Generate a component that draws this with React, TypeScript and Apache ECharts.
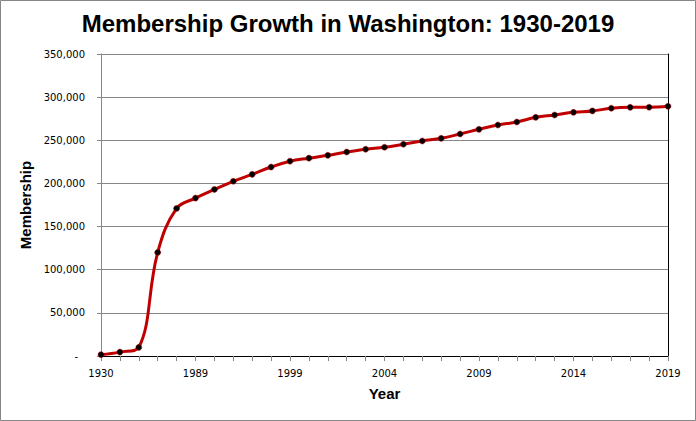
import React, { useEffect, useRef } from "react";
import * as echarts from "echarts";

const years = [
  "1930", "1940", "1950", "1960", "1970", "1989", "1991", "1993", "1995", "1997",
  "1999", "2000", "2001", "2002", "2003", "2004", "2005", "2006", "2007", "2008",
  "2009", "2010", "2011", "2012", "2013", "2014", "2015", "2016", "2017", "2018", "2019",
];

const membership = [
  1500, 4500, 10000, 120000, 171000, 183000, 193000, 202500, 210500, 219000,
  225800, 229300, 232600, 236400, 239600, 241900, 245400, 249200, 252300, 257300,
  262700, 267700, 271200, 276600, 279300, 282400, 284000, 287100, 288200, 288300, 289400,
];

const titleText = "Membership Growth in Washington: 1930-2019";
const xName = "Year";
const yName = "Membership";

export default function App() {
  const ref = useRef<HTMLDivElement>(null);
  useEffect(() => {
    if (!ref.current) return;
    const chart = echarts.init(ref.current, null, { renderer: "svg" });
    const labelFont = "DejaVu Sans";
    const boldFont = "Liberation Sans";
    chart.setOption({
      animation: false,
      backgroundColor: "#fff",
      title: {
        text: titleText,
        left: "center",
        top: 11,
        padding: 0,
        textStyle: { fontFamily: boldFont, fontWeight: "bold", fontSize: 24, color: "#000" },
      },
      graphic: [
        {
          type: "rect",
          shape: { x: 0.5, y: 0.5, width: 695, height: 420 },
          style: { fill: "none", stroke: "#868686", lineWidth: 1 },
          silent: true,
        },
      ],
      grid: { left: 101, right: 28, top: 54, bottom: 65, containLabel: false },
      xAxis: [
        {
          type: "category",
          data: years,
          boundaryGap: false,
          name: xName,
          nameLocation: "middle",
          nameGap: 30,
          nameTextStyle: { fontFamily: boldFont, fontWeight: "bold", fontSize: 15, color: "#000" },
          axisLine: { lineStyle: { color: "#868686", width: 1 } },
          axisTick: { show: true, interval: 0, length: 5, lineStyle: { color: "#868686" } },
          axisLabel: { interval: 4, margin: 12, fontFamily: labelFont, fontSize: 10, color: "#000" },
          splitLine: { show: false },
        },
        {
          type: "category",
          data: years,
          boundaryGap: false,
          position: "top",
          axisLine: { show: true, lineStyle: { color: "#000", width: 1 } },
          axisTick: { show: false },
          axisLabel: { show: false },
          splitLine: { show: false },
        },
      ],
      yAxis: [
        {
          type: "value",
          min: 0,
          max: 350000,
          interval: 50000,
          name: yName,
          nameLocation: "middle",
          nameGap: 64,
          nameTextStyle: { fontFamily: boldFont, fontWeight: "bold", fontSize: 15, color: "#000" },
          axisLine: { show: true, lineStyle: { color: "#868686", width: 1 } },
          axisTick: { show: true, length: 4, lineStyle: { color: "#868686" } },
          axisLabel: {
            margin: 16,
            fontFamily: labelFont,
            fontSize: 10,
            color: "#000",
            formatter: (v: number) =>
              v === 0 ? "{z|-}" : v.toLocaleString("en-US"),
            rich: { z: { fontFamily: labelFont, fontSize: 10, color: "#000", padding: [0, 7, 0, 0] } },
          },
          splitLine: { show: true, lineStyle: { color: "#868686", width: 1 } },
        },
        {
          type: "value",
          min: 0,
          max: 350000,
          interval: 50000,
          position: "right",
          axisLine: { show: true, lineStyle: { color: "#000", width: 1 } },
          axisTick: { show: false },
          axisLabel: { show: false },
          splitLine: { show: false },
        },
      ],
      series: [
        {
          type: "line",
          data: membership,
          xAxisIndex: 0,
          yAxisIndex: 0,
          smooth: 0.4,
          symbol: "circle",
          symbolSize: 6,
          lineStyle: { color: "#C00000", width: 3 },
          itemStyle: { color: "#000", borderColor: "#C00000", borderWidth: 0.5 },
          z: 5,
        },
      ],
    });
    return () => chart.dispose();
  }, []);
  return (
    <div
      ref={ref}
      style={{ position: "absolute", left: 0, top: 0, width: 696, height: 421 }}
    />
  );
}
